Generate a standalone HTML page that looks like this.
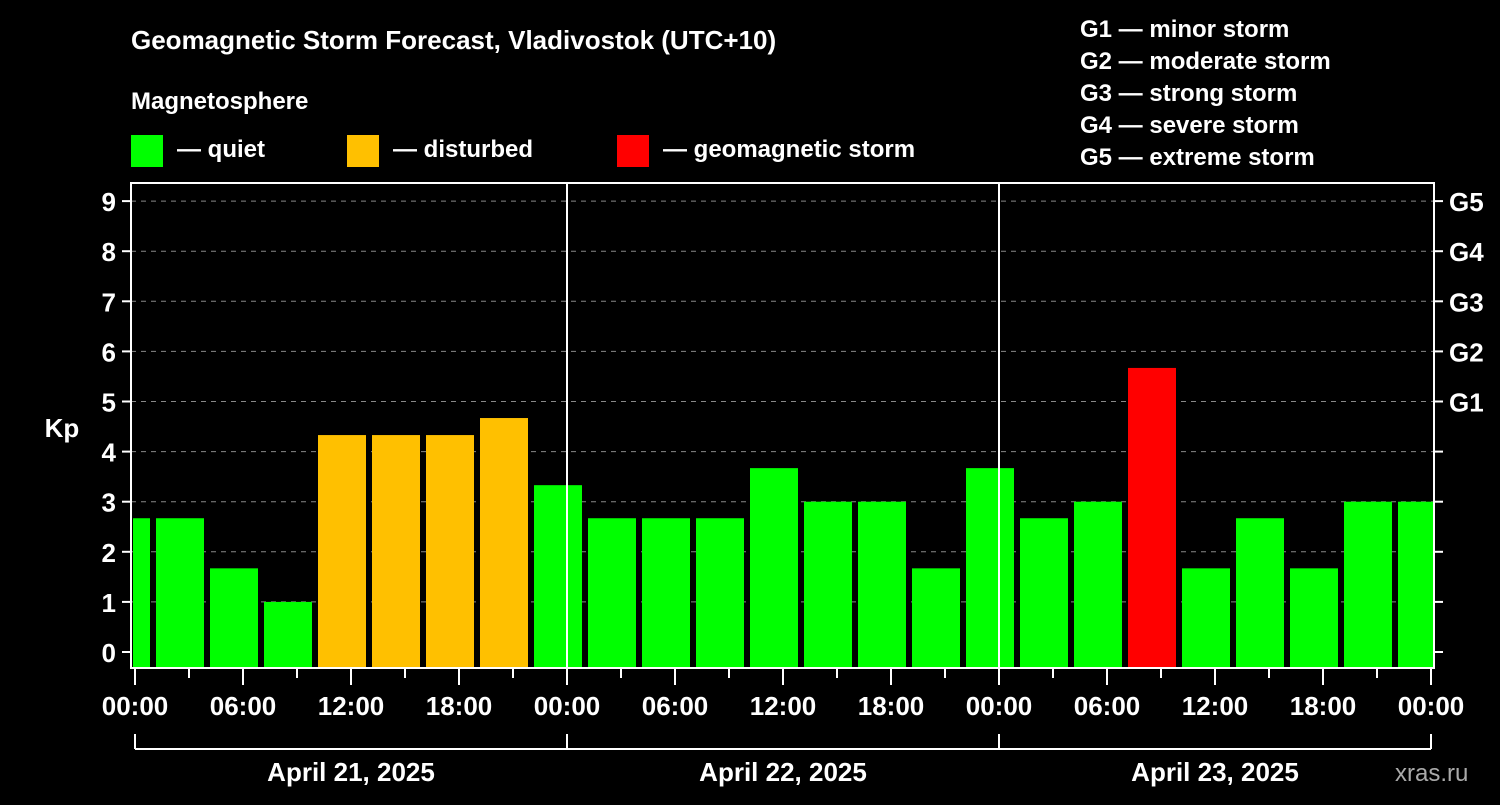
<!DOCTYPE html>
<html><head><meta charset="utf-8"><style>
body{margin:0;background:#000;width:1500px;height:800px;overflow:hidden}
svg text{font-family:"Liberation Sans",sans-serif;font-weight:bold;fill:#fff}
</style></head><body>
<svg id="c" width="1500" height="800" xmlns="http://www.w3.org/2000/svg">
<rect width="1500" height="800" fill="#000"/>
<text x="131" y="49" font-size="26">Geomagnetic Storm Forecast, Vladivostok (UTC+10)</text>
<text x="131" y="109" font-size="24">Magnetosphere</text>
<g><rect x="131" y="135" width="32" height="32" fill="#00ff00"/><text x="177" y="157" font-size="24">— quiet</text></g>
<g><rect x="347" y="135" width="32" height="32" fill="#ffc000"/><text x="393" y="157" font-size="24">— disturbed</text></g>
<g><rect x="617" y="135" width="32" height="32" fill="#ff0000"/><text x="663" y="157" font-size="24">— geomagnetic storm</text></g>
<g font-size="24">
<text x="1080" y="37">G1 — minor storm</text>
<text x="1080" y="69">G2 — moderate storm</text>
<text x="1080" y="101">G3 — strong storm</text>
<text x="1080" y="133">G4 — severe storm</text>
<text x="1080" y="165">G5 — extreme storm</text>
</g>
<text x="1395" y="781" font-size="24" fill="#aaa" style="fill:#aaa;font-weight:normal">xras.ru</text>
<text x="62" y="437" font-size="26" text-anchor="middle">Kp</text>
<g id="plot"></g>
</svg>
<script>
const kpValues=[2.67,2.67,1.67,1.0,4.33,4.33,4.33,4.67,3.33,2.67,2.67,2.67,3.67,3.0,3.0,1.67,3.67,2.67,3.0,5.67,1.67,2.67,1.67,3.0,3.0];
const kpTicks=[0,1,2,3,4,5,6,7,8,9];
const gLabels=["","","","","","G1","G2","G3","G4","G5"];
const timeLabels=["00:00","06:00","12:00","18:00"];
const dayLabels=["April 21, 2025","April 22, 2025","April 23, 2025"];
const firstBarStartHour=-2;

const NS="http://www.w3.org/2000/svg";
const L=131,R=1434,T=183,B=668,X0=135,PXH=18;
const y=v=>652-v*50.1;
const x=h=>X0+h*PXH;
const g=document.getElementById('plot');
function mk(t,a,p){const e=document.createElementNS(NS,t);for(const k in a)e.setAttribute(k,a[k]);(p||g).appendChild(e);return e;}
// clip
const defs=mk('defs',{});const cp=mk('clipPath',{id:'cl'},defs);mk('rect',{x:L+2,y:T,width:R-L-3,height:B-T},cp);
// grid
kpTicks.forEach(v=>{if(v>0){const l=mk('line',{x1:L,x2:R,y1:y(v),y2:y(v),stroke:'#888','stroke-dasharray':'5,5','stroke-width':1});

}});
// bars
const bg=mk('g',{'clip-path':'url(#cl)'});
kpValues.forEach((v,i)=>{const h0=firstBarStartHour+i*3;const col=v>=5?'#ff0000':(v>=4?'#ffc000':'#00ff00');
const r=mk('rect',{x:x(h0)+3,y:y(v),width:3*PXH-6,height:B-y(v),fill:col},bg);

});
// day separators
for(let d=1;d<dayLabels.length;d++){mk('line',{x1:x(24*d),x2:x(24*d),y1:T,y2:B,stroke:'#fff','stroke-width':2});}
// frame
const fr=mk('rect',{x:L,y:T,width:R-L,height:B-T,fill:'none',stroke:'#fff','stroke-width':2});


// y ticks
kpTicks.forEach((v,i)=>{mk('line',{x1:L-9,x2:L,y1:y(v),y2:y(v),stroke:'#fff','stroke-width':2});
mk('line',{x1:R,x2:R+9,y1:y(v),y2:y(v),stroke:'#fff','stroke-width':2});
const t=mk('text',{x:116,y:y(v)+10,'font-size':26,'text-anchor':'end'});t.textContent=v;


if(gLabels[i]){const g2=mk('text',{x:1449,y:y(v)+10,'font-size':26});g2.textContent=gLabels[i];

}});
// x ticks
const nD=dayLabels.length;
for(let h=0;h<=24*nD;h+=3){const maj=h%6===0;mk('line',{x1:x(h),x2:x(h),y1:B,y2:B+(maj?17:10),stroke:'#fff','stroke-width':2});
if(maj&&(h%24===0||true)&&h%6===0){const lab=timeLabels[(h%24)/6];const t=mk('text',{x:x(h),y:715,'font-size':26,'text-anchor':'middle'});t.textContent=lab;

}}
// day brackets
mk('line',{x1:x(0),x2:x(24*nD),y1:749,y2:749,stroke:'#fff','stroke-width':2});
for(let d=0;d<=nD;d++)mk('line',{x1:x(24*d),x2:x(24*d),y1:734,y2:749,stroke:'#fff','stroke-width':2});
dayLabels.forEach((s,d)=>{const t=mk('text',{x:x(24*d+12),y:781,'font-size':26,'text-anchor':'middle'});t.textContent=s;

});
</script>
</body></html>
